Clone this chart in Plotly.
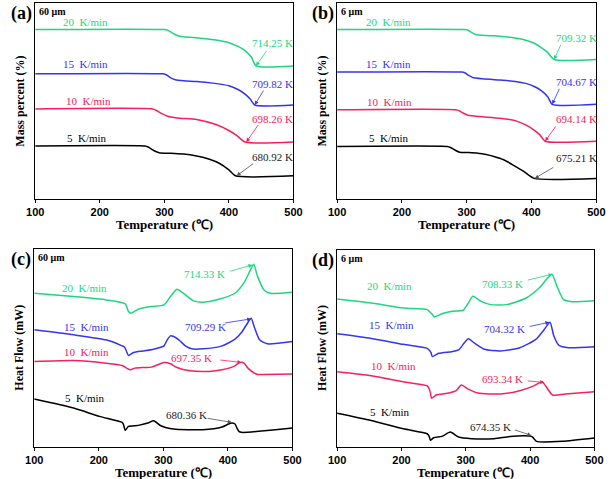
import plotly.graph_objects as go

# ---------------- data (temperature in deg C, signal in relative units) ----------------
rates = ["20", "15", "10", "5"]
colors = ["#1ed67f", "#3535ec", "#f3225c", "#000000"]

# (a) TG 60 um
a_T = [
    [100, 300, 305, 312, 320, 330, 345, 360, 380, 400, 415, 425, 435, 442, 500],
    [100, 297, 302, 310, 317, 330, 350, 375, 400, 415, 425, 433, 440, 500],
    [100, 282, 287, 297, 305, 320, 350, 380, 400, 412, 425, 500],
    [100, 270, 275, 285, 292, 310, 330, 350, 370, 385, 400, 410, 500],
]
a_V = [
    [512, 512, 510, 502, 494, 490, 488, 485, 480, 472, 460, 448, 428, 402, 402],
    [378, 378, 376, 366, 360, 357, 355, 350, 342, 330, 317, 302, 284, 284],
    [272, 272, 268, 257, 250, 245, 240, 225, 207, 192, 172, 172],
    [160, 160, 157, 145, 140, 138, 136, 130, 120, 108, 88, 70, 70],
]
# (b) TG 6 um
b_T = [
    [100, 297, 302, 308, 314, 330, 351, 370, 391, 405, 415, 424, 435, 500],
    [100, 292, 297, 303, 309, 325, 351, 375, 391, 405, 415, 425, 432, 500],
    [100, 283, 288, 295, 302, 320, 351, 375, 391, 405, 413, 421, 500],
    [100, 270, 275, 283, 289, 300, 317, 330, 342, 357, 371, 388, 404, 500],
]
b_V = [
    [510, 510, 508, 501, 495, 492, 490, 486, 478, 468, 456, 443, 420, 420],
    [382, 382, 380, 372, 366, 362, 358, 354, 348, 338, 326, 308, 285, 285],
    [269, 269, 266, 258, 252, 248, 243, 236, 223, 206, 193, 174, 174],
    [158, 158, 155, 146, 141, 140, 138, 134, 128, 118, 103, 83, 62, 62],
]
# (c) DSC 60 um
c_T = [
    [100, 161, 211, 241, 246, 250, 261, 281, 301, 311, 321, 331, 346, 361, 386, 411, 426, 436, 440, 446, 456, 466, 500],
    [100, 161, 211, 236, 240, 243, 246, 254, 271, 291, 301, 306, 311, 316, 324, 334, 344, 361, 391, 411, 421, 431, 436, 441, 449, 461, 500],
    [100, 161, 211, 236, 243, 249, 256, 271, 281, 291, 301, 311, 321, 341, 371, 391, 411, 418, 425, 431, 441, 446, 456, 500],
    [100, 161, 201, 236, 238, 241, 246, 261, 276, 285, 296, 316, 361, 391, 401, 406, 411, 414, 417, 421, 500],
]
c_V = [
    [462, 452, 442, 430, 407, 402, 414, 422, 427, 452, 474, 462, 440, 435, 444, 462, 497, 537, 549, 512, 472, 462, 465],
    [352, 337, 322, 304, 300, 287, 275, 284, 289, 297, 304, 322, 334, 332, 322, 304, 295, 295, 304, 324, 344, 374, 387, 360, 322, 310, 317],
    [257, 260, 252, 245, 237, 232, 237, 239, 240, 247, 254, 250, 239, 229, 227, 232, 244, 254, 252, 237, 222, 218, 218, 219],
    [144, 117, 92, 74, 69, 50, 62, 65, 72, 79, 64, 54, 52, 60, 69, 72, 69, 57, 47, 44, 57],
]
# (d) DSC 6 um
d_T = [
    [100, 153, 203, 240, 243, 248, 251, 264, 279, 296, 304, 311, 324, 339, 364, 394, 414, 425, 434, 442, 452, 465, 500],
    [100, 153, 203, 240, 243, 246, 248, 258, 278, 289, 296, 304, 314, 329, 354, 384, 409, 422, 431, 437, 445, 460, 500],
    [100, 153, 203, 240, 242, 245, 247, 254, 274, 285, 293, 304, 319, 354, 384, 404, 419, 424, 435, 455, 500],
    [100, 153, 203, 240, 243, 245, 250, 263, 276, 289, 309, 344, 369, 399, 404, 407, 410, 450, 500],
]
d_V = [
    [447, 435, 420, 415, 410, 400, 393, 403, 410, 413, 435, 455, 440, 430, 430, 450, 480, 505, 522, 485, 445, 439, 442],
    [342, 328, 310, 298, 293, 285, 273, 283, 288, 293, 310, 327, 313, 295, 290, 300, 325, 355, 377, 335, 307, 300, 303],
    [227, 215, 197, 185, 180, 165, 147, 157, 163, 170, 187, 175, 163, 160, 170, 183, 197, 185, 157, 160, 167],
    [102, 80, 55, 40, 33, 20, 28, 32, 45, 30, 25, 25, 32, 33, 30, 23, 17, 17, 27],
]

# peak / end temperatures (K) labels
a_K = ["714.25 K", "709.82 K", "698.26 K", "680.92 K"]
b_K = ["709.32 K", "704.67 K", "694.14 K", "675.21 K"]
c_K = ["714.33 K", "709.29 K", "697.35 K", "680.36 K"]
d_K = ["708.33 K", "704.32 K", "693.34 K", "674.35 K"]

# annotation placement: text (T, v), arrow tail (T, v), arrow head (T, v)
a_txt = [(467, 472), (467, 348), (467, 243), (467, 128)]
a_tail = [(460, 452), (455, 332), (447, 228), (440, 110)]
a_head = [(442, 402), (440, 284), (427, 172), (412, 70)]
b_txt = [(469, 486), (469, 353), (469, 241), (469, 123)]
b_tail = [(446, 468), (444, 336), (439, 223), (436, 98)]
b_head = [(435, 420), (432, 285), (421, 174), (405, 62)]
c_txt = [(363, 519), (366, 360), (344, 267), (336, 95)]
c_tail = [(401, 527), (393, 372), (386, 262), (366, 87)]
c_head = [(438, 547), (436, 385), (421, 254), (406, 74)]
d_txt = [(357, 493), (360, 355), (357, 205), (338, 60)]
d_tail = [(394, 503), (397, 363), (394, 200), (374, 53)]
d_head = [(435, 522), (430, 377), (422, 195), (402, 35)]

a_lab = [(178, 535), (178, 408), (183, 295), (180, 185)]
b_lab = [(180, 533), (180, 406), (181, 293), (180, 183)]
c_lab = [(178, 477), (181, 362), (181, 285), (178, 147)]
d_lab = [(182, 487), (184, 367), (187, 245), (182, 105)]

x_ticks = [100, 200, 300, 400, 500]

# ---------------- layout geometry ----------------
W, H = 616, 479
panels = [
    dict(T=a_T, V=a_V, K=a_K, txt=a_txt, tail=a_tail, head=a_head, lab=a_lab,
         px=(27, 293), py=(3, 199), yr=592, tag="(a)", size="60 \u03bcm", ytitle="Mass percent (%)"),
    dict(T=b_T, V=b_V, K=b_K, txt=b_txt, tail=b_tail, head=b_head, lab=b_lab,
         px=(338, 605), py=(3, 199), yr=590, tag="(b)", size="6 \u03bcm", ytitle="Mass percent (%)"),
    dict(T=c_T, V=c_V, K=c_K, txt=c_txt, tail=c_tail, head=c_head, lab=c_lab,
         px=(26, 292), py=(249, 447), yr=595, tag="(c)", size="60 \u03bcm", ytitle="Heat Flow (mW)"),
    dict(T=d_T, V=d_V, K=d_K, txt=d_txt, tail=d_tail, head=d_head, lab=d_lab,
         px=(338, 603), py=(250, 447), yr=595, tag="(d)", size="6 \u03bcm", ytitle="Heat Flow (mW)"),
]

serif = "Liberation Serif, Times New Roman, serif"
sans = "Liberation Sans, Arial, sans-serif"

fig = go.Figure()
annotations = []
layout = dict(
    width=W, height=H, margin=dict(l=0, r=0, t=0, b=0),
    paper_bgcolor="white", plot_bgcolor="white", showlegend=False,
)

for i, p in enumerate(panels):
    n = "" if i == 0 else str(i + 1)
    xa, ya = "x" + n, "y" + n
    for k in range(4):
        fig.add_trace(go.Scatter(
            x=p["T"][k], y=p["V"][k], mode="lines",
            line=dict(color=colors[k], width=1.5, shape="spline", smoothing=0.6),
            xaxis=xa, yaxis=ya, hoverinfo="skip",
        ))
    x0, x1 = p["px"]
    y0, y1 = p["py"]
    layout["xaxis" + n] = dict(
        domain=[x0 / W, x1 / W], range=[100, 500], anchor=ya,
        tickvals=x_ticks, ticks="outside", ticklen=3, tickcolor="black",
        showline=True, linecolor="black", linewidth=1, mirror=True,
        showgrid=False, zeroline=False,
        tickfont=dict(family=sans, size=11, color="black", weight="bold"),
    )
    layout["yaxis" + n] = dict(
        domain=[1 - y1 / H, 1 - y0 / H], range=[0, p["yr"]], anchor=xa,
        showticklabels=False, ticks="", showline=True, linecolor="black",
        linewidth=1, mirror=True, showgrid=False, zeroline=False,
    )
    # x title
    annotations.append(dict(
        text="Temperature (\u2103)", xref="paper", yref="paper",
        x=(x0 + x1) / 2 / W, y=1 - (y1 + 16) / H, xanchor="center", yanchor="top",
        showarrow=False, font=dict(family=serif, size=13, color="black", weight="bold"),
    ))
    # y title
    annotations.append(dict(
        text=p["ytitle"], xref="paper", yref="paper", textangle=-90,
        x=(x0 - 16) / W, y=1 - (y0 + y1) / 2 / H, xanchor="center", yanchor="middle",
        showarrow=False, font=dict(family=serif, size=12, color="black", weight="bold"),
    ))
    # panel tag
    annotations.append(dict(
        text=p["tag"], xref="paper", yref="paper",
        x=(x0 - 1) / W, y=1 - (y0 - 2) / H, xanchor="right", yanchor="top",
        showarrow=False, font=dict(family=serif, size=18, color="black", weight="bold"),
    ))
    annotations.append(dict(
        text=p["size"], xref="paper", yref="paper",
        x=(x0 + 2) / W, y=1 - (y0 + 1) / H, xanchor="left", yanchor="top",
        showarrow=False, font=dict(family=serif, size=10, color="black", weight="bold"),
    ))
    for k in range(4):
        lx, lv = p["lab"][k]
        annotations.append(dict(
            text=rates[k] + "\u00a0\u00a0K/min", x=lx, y=lv, xref=xa, yref=ya,
            showarrow=False, xanchor="center", yanchor="middle",
            font=dict(family=serif, size=11, color=colors[k]),
        ))
        tx, tv = p["txt"][k]
        annotations.append(dict(
            text=p["K"][k], x=tx, y=tv, xref=xa, yref=ya,
            showarrow=False, xanchor="center", yanchor="middle",
            font=dict(family=serif, size=11, color=colors[k] if k < 3 else "#222222"),
        ))
        hx, hv = p["head"][k]
        sx, sv = p["tail"][k]
        annotations.append(dict(
            text="", x=hx, y=hv, ax=sx, ay=sv, xref=xa, yref=ya, axref=xa, ayref=ya,
            showarrow=True, arrowhead=2, arrowsize=1, arrowwidth=0.8,
            arrowcolor=colors[k] if k < 3 else "#555555",
        ))

layout["annotations"] = annotations
fig.update_layout(**layout)
fig.write_html(
    "out.html",
    config={"displayModeBar": False},
    post_script="document.body.style.margin='0';document.body.style.padding='0';",
)
